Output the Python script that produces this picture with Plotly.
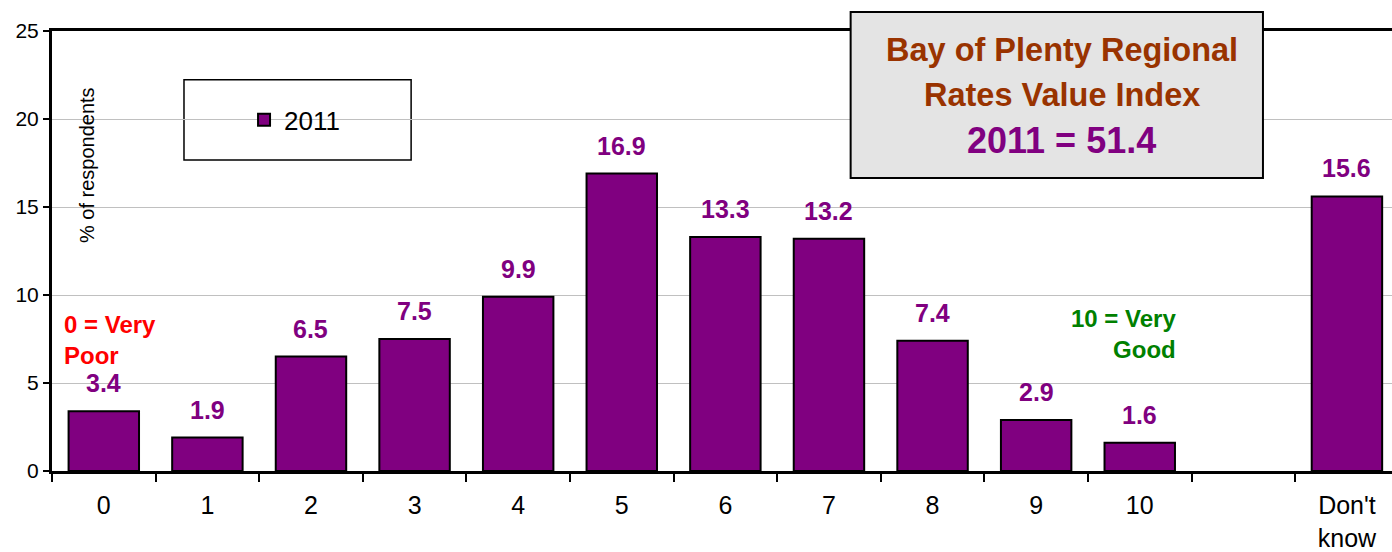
import plotly.graph_objects as go

categories = ["0", "1", "2", "3", "4", "5", "6", "7", "8", "9", "10", " ", "Don't<br>know"]
values = [3.4, 1.9, 6.5, 7.5, 9.9, 16.9, 13.3, 13.2, 7.4, 2.9, 1.6, None, 15.6]
series_name = "2011"
y_ticks = [0, 5, 10, 15, 20, 25]

PURPLE = "#800080"
FONT = "Liberation Sans, Arial, sans-serif"

fig = go.Figure()
fig.add_trace(go.Bar(
    x=categories, y=values, name=series_name,
    marker=dict(color=PURPLE, line=dict(color="black", width=2)),
    width=0.68, showlegend=True,
))

# data labels
for c, v in zip(categories, values):
    if v is None:
        continue
    fig.add_annotation(x=c, y=v, text=f"<b>{v:.1f}</b>", showarrow=False,
                       yshift=28, font=dict(family=FONT, size=25, color=PURPLE))

fig.add_annotation(xref="paper", yref="paper", x=0.0075, y=0.297, xanchor="left", yanchor="middle",
                   text="<b>0 = Very<br>Poor</b>", align="left", showarrow=False,
                   font=dict(family=FONT, size=24, color="#ff0000"))
fig.add_annotation(xref="paper", yref="paper", x=0.84, y=0.311, xanchor="right", yanchor="middle",
                   text="<b>10 = Very<br>Good</b>", align="right", showarrow=False,
                   font=dict(family=FONT, size=24, color="#008000"))

# y axis title inside plot
fig.add_annotation(xref="paper", yref="paper", x=0.026, y=0.695, xanchor="center", yanchor="middle",
                   text="% of respondents", textangle=-90, showarrow=False,
                   font=dict(family=FONT, size=20, color="black"))

# legend frame
fig.add_shape(type="rect", xref="paper", yref="paper", x0=0.0985, x1=0.268, y0=0.707, y1=0.889,
              line=dict(color="black", width=1.5), fillcolor="white", layer="below")

# title box
fig.add_shape(type="rect", xref="paper", yref="paper", x0=0.596, x1=0.9037, y0=0.666, y1=1.043,
              line=dict(color="black", width=2), fillcolor="#e4e4e4", layer="above")
fig.add_annotation(xref="paper", yref="paper", x=0.7537, y=0.957, xanchor="center", yanchor="middle",
                   text="<b>Bay of Plenty Regional</b>", showarrow=False,
                   font=dict(family=FONT, size=32.5, color="#993300"))
fig.add_annotation(xref="paper", yref="paper", x=0.7537, y=0.855, xanchor="center", yanchor="middle",
                   text="<b>Rates Value Index</b>", showarrow=False,
                   font=dict(family=FONT, size=32.5, color="#993300"))
fig.add_annotation(xref="paper", yref="paper", x=0.7537, y=0.752, xanchor="center", yanchor="middle",
                   text="<b>2011 = 51.4</b>", showarrow=False,
                   font=dict(family=FONT, size=36, color=PURPLE))

fig.update_layout(
    width=1392, height=552,
    margin=dict(l=52, r=0, t=31, b=81),
    paper_bgcolor="white", plot_bgcolor="white",
    font=dict(family=FONT, color="black"),
    legend=dict(x=0.181, y=0.798, xanchor="center", yanchor="middle",
                bgcolor="rgba(0,0,0,0)", borderwidth=0,
                font=dict(family=FONT, size=26, color="black"),
                itemwidth=30),
    xaxis=dict(type="category", range=[-0.5, 12.435],
               showline=True, linecolor="black", linewidth=3, mirror=True,
               ticks="outside", tickson="boundaries", ticklen=8, tickwidth=2, tickcolor="black",
               tickfont=dict(family=FONT, size=25, color="black"), showgrid=False,
               ticklabelstandoff=10, automargin=False),
    yaxis=dict(range=[0, 25], tickvals=y_ticks, showline=True, linecolor="black", linewidth=3,
               ticks="outside", ticklen=6, tickwidth=2, tickcolor="black",
               showgrid=True, gridcolor="#c0c0c0", gridwidth=1,
               tickfont=dict(family=FONT, size=21, color="black"), zeroline=False,
               automargin=False),
)

fig.write_html("out.html", config={"displayModeBar": False},
               post_script="document.body.style.margin='0';document.body.style.padding='0';")
